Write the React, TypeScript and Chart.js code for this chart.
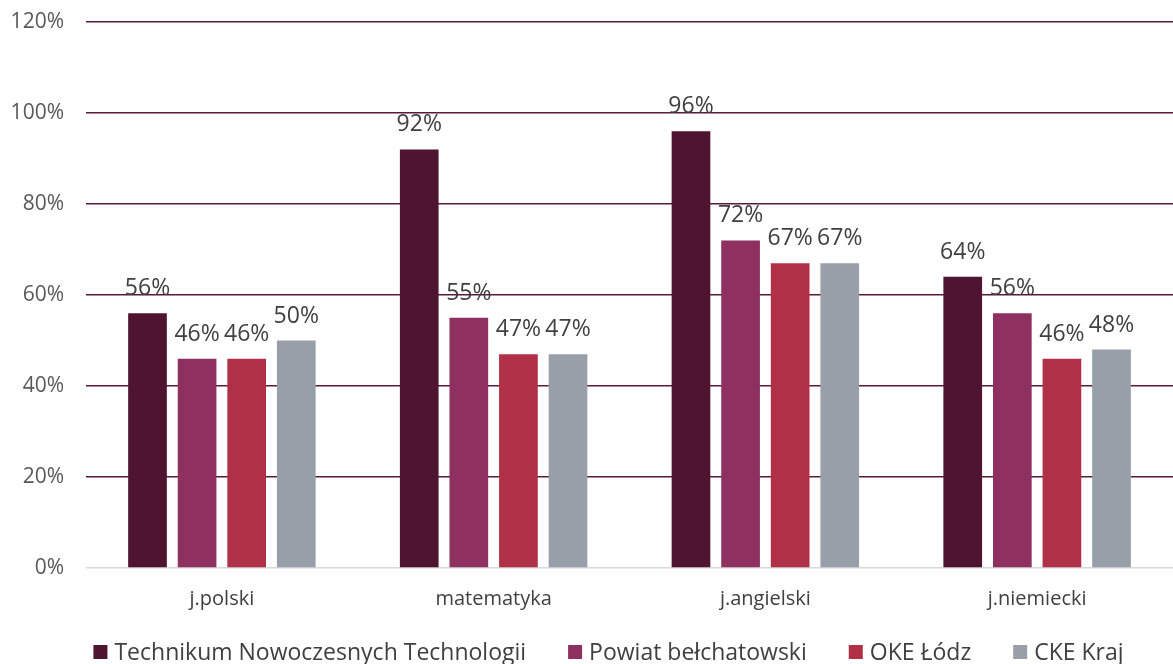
import React, { useEffect, useRef } from "react";
import { Chart, registerables } from "chart.js";

Chart.register(...registerables);

const categories = ["j.polski", "matematyka", "j.angielski", "j.niemiecki"];
const seriesNames = ["Technikum Nowoczesnych Technologii", "Powiat bełchatowski", "OKE Łódz", "CKE Kraj"];
const technikum = [56, 92, 96, 64];
const powiat = [46, 55, 72, 56];
const oke = [46, 47, 67, 46];
const cke = [50, 47, 67, 48];
const colors = ["#4E1430", "#8E3160", "#B03048", "#979FA8"];
const yTicks = [0, 20, 40, 60, 80, 100, 120];

const FONT = "'Open Sans', sans-serif";

const labelPlugin = {
  id: "barLabels",
  afterDatasetsDraw(chart: any) {
    const ctx = chart.ctx;
    ctx.save();
    ctx.font = `23px ${FONT}`;
    ctx.fillStyle = "#404040";
    ctx.textAlign = "center";
    ctx.textBaseline = "alphabetic";
    chart.data.datasets.forEach((ds: any, i: number) => {
      const meta = chart.getDatasetMeta(i);
      meta.data.forEach((bar: any, j: number) => {
        ctx.fillText(ds.data[j] + "%", bar.x, bar.y - 18);
      });
    });
    ctx.restore();
  },
};

const legendPlugin = {
  id: "customLegend",
  afterDraw(chart: any) {
    const ctx = chart.ctx;
    const box = 14;
    const boxGap = 7;
    const itemGap = 42;
    ctx.save();
    ctx.font = `23px ${FONT}`;
    const items = chart.data.datasets.map((ds: any) => ({
      label: ds.label,
      color: ds.backgroundColor,
      w: ctx.measureText(ds.label).width,
    }));
    const total =
      items.reduce((s: number, it: any) => s + box + boxGap + it.w, 0) + itemGap * (items.length - 1);
    let x = chart.width / 2 + 22 - total / 2;
    const y = chart.height - 12;
    ctx.textBaseline = "middle";
    ctx.textAlign = "left";
    items.forEach((it: any) => {
      ctx.fillStyle = it.color;
      ctx.fillRect(x, y - box / 2, box, box);
      x += box + boxGap;
      ctx.fillStyle = "#404040";
      ctx.fillText(it.label, x, y + 1);
      x += it.w + itemGap;
    });
    ctx.restore();
  },
};

export default function App() {
  const ref = useRef<HTMLCanvasElement>(null);
  useEffect(() => {
    const values = [technikum, powiat, oke, cke];
    const chart = new Chart(ref.current!, {
      type: "bar",
      data: {
        labels: categories,
        datasets: seriesNames.map((name, i) => ({
          label: name,
          data: values[i],
          backgroundColor: colors[i],
          categoryPercentage: 0.73,
          barPercentage: 0.78,
        })),
      },
      options: {
        animation: false,
        responsive: true,
        maintainAspectRatio: false,
        layout: { padding: { left: 0, right: -9, top: 0, bottom: 42 } },
        scales: {
          y: {
            min: 0,
            max: 120,
            afterBuildTicks: (axis: any) => {
              axis.ticks = yTicks.map((v) => ({ value: v }));
            },
            afterFit: (axis: any) => {
              axis.width = 86;
              axis.paddingTop = 22;
            },
            ticks: {
              callback: (v: any) => v + "%",
              font: { family: FONT, size: 21 },
              color: "#595959",
              padding: 22,
            },
            grid: {
              drawTicks: false,
              color: (c: any) => (c.tick && c.tick.value === 0 ? "#D9D9D9" : "#5A1A3A"),
              lineWidth: 1.5,
            },
            border: { display: false },
          },
          x: {
            ticks: {
              font: { family: FONT, size: 20 },
              color: "#404040",
              padding: 11,
            },
            grid: { display: false },
            border: { display: false },
          },
        },
        plugins: {
          legend: { display: false },
          tooltip: { enabled: false },
        },
      },
      plugins: [labelPlugin, legendPlugin],
    });
    return () => chart.destroy();
  }, []);
  return (
    <div style={{ position: "fixed", left: 0, top: 0, width: 1173, height: 664, background: "#fff" }}>
      <canvas ref={ref} />
    </div>
  );
}
